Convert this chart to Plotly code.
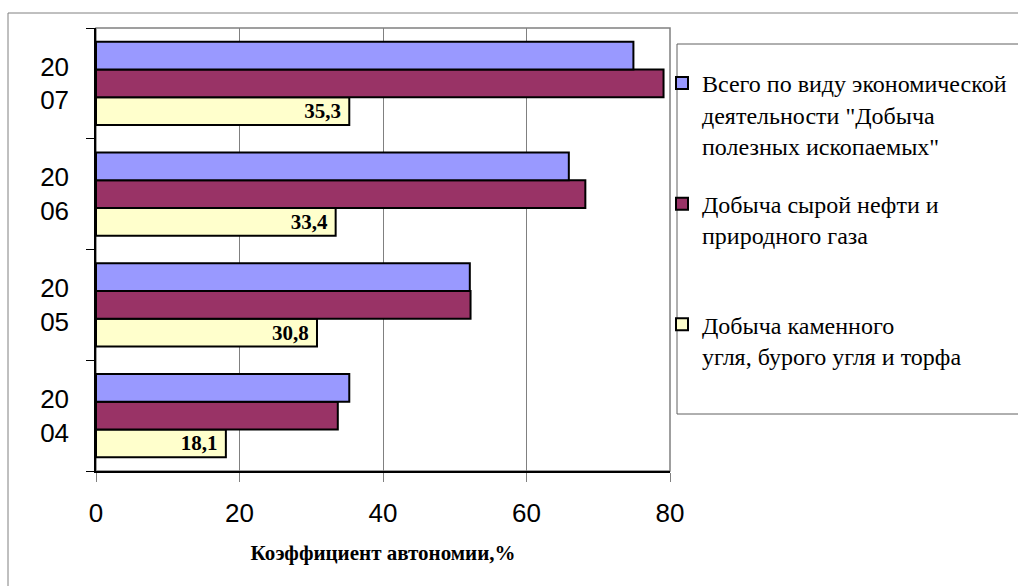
import plotly.graph_objects as go

# ---- data ----
year_labels = ["20<br>04", "20<br>05", "20<br>06", "20<br>07"]
total_mining = [35.3, 52.1, 65.9, 74.9]
oil_gas = [33.7, 52.2, 68.2, 79.1]
coal = [18.1, 30.8, 33.4, 35.3]
series_names = [
    'Всего по виду экономической<br>деятельности "Добыча<br>полезных ископаемых"',
    'Добыча сырой нефти и<br>природного газа<br>\u00a0',
    'Добыча каменного<br>угля, бурого угля и торфа',
]
x_title = "Коэффициент автономии,%"
x_ticks = [0, 20, 40, 60, 80]

# ---- layout geometry (pixels) ----
W, H = 1018, 586
L, R, T, B = 96, 670, 28, 471


def px(x):
    return (x - L) / (R - L)


def py(y):
    return (B - y) / (B - T)


def open_box(x0, x1, y0, y1):
    # left, top and bottom sides only (right side runs off the canvas)
    return (f"M {px(x1)},{py(y0)} L {px(x0)},{py(y0)} "
            f"L {px(x0)},{py(y1)} L {px(x1)},{py(y1)}")


serif = "Times New Roman, Liberation Serif, DejaVu Serif, serif"
sans = "Liberation Sans"
line = dict(color="black", width=2)

fig = go.Figure()
coal_text = [f"{v:.1f}".replace(".", ",") + "\u00a0" for v in coal]
fig.add_trace(go.Bar(
    y=year_labels, x=coal, orientation="h", name=series_names[2],
    marker=dict(color="#FFFFCC", line=line), legendgroup="c", legendrank=3,
    text=coal_text, textposition="inside", insidetextanchor="end",
    textangle=0, constraintext="none",
    textfont=dict(family=serif, size=21, color="black", weight="bold"),
))
fig.add_trace(go.Bar(
    y=year_labels, x=oil_gas, orientation="h", name=series_names[1],
    marker=dict(color="#993366", line=line), legendgroup="b", legendrank=2,
))
fig.add_trace(go.Bar(
    y=year_labels, x=total_mining, orientation="h", name=series_names[0],
    marker=dict(color="#9999FF", line=line), legendgroup="a", legendrank=1,
))

fig.update_layout(
    width=W, height=H,
    font=dict(family=serif, color="black"),
    margin=dict(l=L, r=W - R, t=T, b=H - B, autoexpand=False),
    paper_bgcolor="white", plot_bgcolor="white",
    barmode="group", bargap=0.25, bargroupgap=0,
    showlegend=True,
    legend=dict(
        x=px(662), xanchor="left", y=py(61), yanchor="top",
        traceorder="grouped", tracegroupgap=24,
        valign="top", bgcolor="rgba(0,0,0,0)", borderwidth=0,
        font=dict(family=serif, size=24, color="black", weight="normal"),
    ),
    xaxis=dict(
        range=[0, 80], tickvals=x_ticks, showgrid=True,
        gridcolor="#808080", gridwidth=1, zeroline=False,
        showline=True, linecolor="black", linewidth=2,
        ticks="outside", ticklen=9, tickcolor="#808080",
        tickfont=dict(family=sans, size=26, color="black"),
        ticklabelstandoff=9,
        title=dict(text=x_title, standoff=18,
                   font=dict(family=serif, size=21, color="black", weight="bold")),
    ),
    yaxis=dict(
        showgrid=False, zeroline=False, tickson="boundaries",
        showline=True, linecolor="black", linewidth=1.5,
        ticks="outside", ticklen=8, tickcolor="black",
        tickfont=dict(family=sans, size=26, color="black"),
        ticklabelstandoff=20,
    ),
    shapes=[
        dict(type="rect", xref="paper", yref="paper", x0=0, x1=1, y0=0, y1=1,
             line=dict(color="#808080", width=1.5), layer="below"),
        dict(type="path", xref="paper", yref="paper",
             path=open_box(8, 1040, 600, 13),
             line=dict(color="#808080", width=1), layer="below"),
        dict(type="path", xref="paper", yref="paper",
             path=open_box(677, 1040, 414, 44),
             line=dict(color="#606060", width=1), layer="below"),
    ],
)

fig.write_html(
    "out.html",
    config={"displayModeBar": False},
    post_script="document.body.style.margin='0';document.body.style.overflow='hidden';",
)
